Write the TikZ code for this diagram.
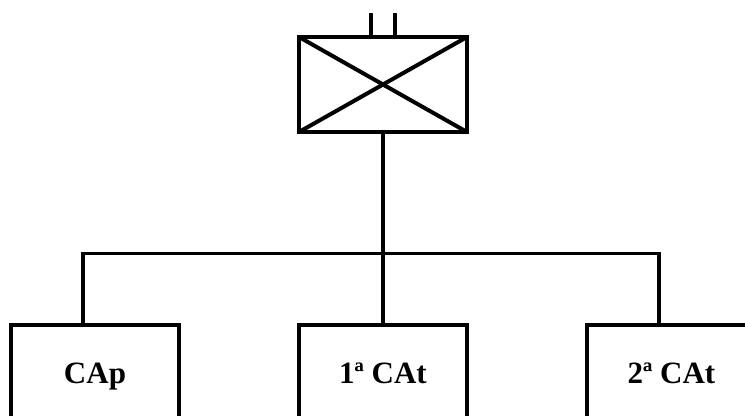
\documentclass[tikz,border=0pt]{standalone}
\usepackage{fontspec}
\setmainfont{Liberation Serif}
\tikzset{
  x=1pt,y=-1pt,
  wire/.style={draw=black,line width=4.3pt},
  thinwire/.style={draw=black,line width=4pt},
  bus/.style={draw=black,line width=3.8pt,line join=miter},
  anchorbox/.style={inner sep=0pt,outer sep=0pt,minimum width=168pt,minimum height=91pt,anchor=north},
  label/.style={inner sep=0pt,font=\bfseries\fontsize{31}{31}\selectfont,anchor=base}
}
\begin{document}
\begin{tikzpicture}
\useasboundingbox (0,0) rectangle (745,416);
\fill[white] (0,0) rectangle (745,416);
% cross box
\node[anchorbox,minimum height=95pt,draw=black,line width=4.3pt,line join=miter] (sw) at (383,37) {};
\draw[thinwire] (sw.north west) -- (sw.south east);
\draw[thinwire] (sw.north east) -- (sw.south west);
\coordinate (s1) at (371,13);
\coordinate (s2) at (395,13);
\draw[thinwire] (s1) -- (s1 |- sw.north);
\draw[thinwire] (s2) -- (s2 |- sw.north);
% lower boxes
\node[anchorbox] (cap) at (95,325) {};
\node[anchorbox] (ca1) at (383,325) {};
\node[anchorbox] (ca2) at (671,325) {};
\begin{scope}
\clip (0,0) rectangle (745,416);
\foreach \b in {cap,ca1,ca2}{
  \draw[wire,line join=miter] (\b.south west) -- (\b.north west) -- (\b.north east) -- (\b.south east);
}
\end{scope}
% bus
\coordinate (busl) at (83,253.5);
\coordinate (busr) at (659,253.5);
\draw[wire] (sw.south) -- (ca1.north);
\draw[bus] (cap.north -| busl) -- (busl) -- (busr) -- (ca2.north -| busr);
% labels
\node[label] (tcap) at (95,383) {CAp};
\node[label] (tca1) at (383,383) {1ª CAt};
\node[label] (tca2) at (671.5,383) {2ª CAt};
\end{tikzpicture}
\end{document}
